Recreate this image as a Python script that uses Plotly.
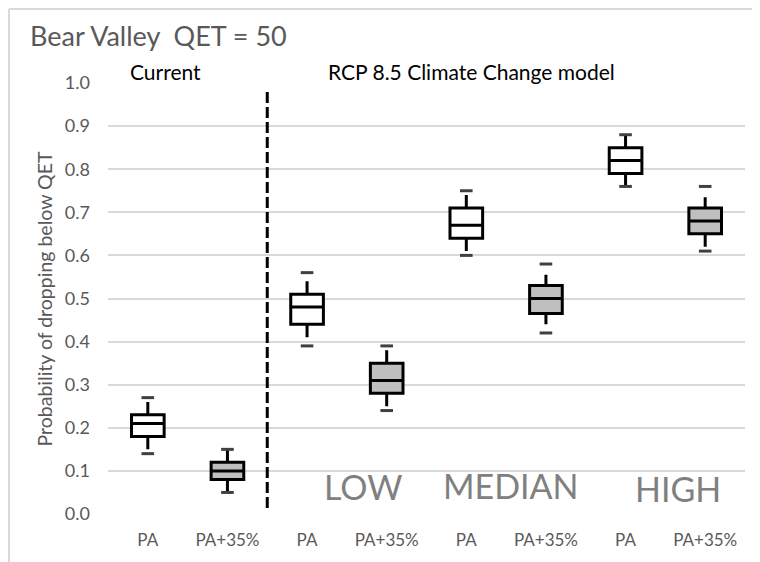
import plotly.graph_objects as go

# ---- data ----
x_labels = ["PA", "PA+35%", "PA", "PA+35%", "PA", "PA+35%", "PA", "PA+35%"]
scenario_labels = ["LOW", "MEDIAN", "HIGH"]

# PA boxes (Current, LOW, MEDIAN, HIGH)
pa_q1 = [0.18, 0.44, 0.64, 0.79]
pa_median = [0.21, 0.48, 0.67, 0.82]
pa_q3 = [0.23, 0.51, 0.71, 0.85]
pa_whisk_lo = [0.15, 0.41, 0.61, 0.76]
pa_whisk_hi = [0.26, 0.54, 0.74, 0.88]
pa_min = [0.14, 0.39, 0.60, 0.76]
pa_max = [0.27, 0.56, 0.75, 0.88]

# PA+35% boxes (Current, LOW, MEDIAN, HIGH)
pa35_q1 = [0.08, 0.28, 0.465, 0.65]
pa35_median = [0.10, 0.31, 0.50, 0.68]
pa35_q3 = [0.12, 0.35, 0.53, 0.71]
pa35_whisk_lo = [0.05, 0.25, 0.44, 0.62]
pa35_whisk_hi = [0.15, 0.38, 0.555, 0.735]
pa35_min = [0.05, 0.24, 0.42, 0.61]
pa35_max = [0.15, 0.39, 0.58, 0.76]

FONT = "Lato"
pa_x = [i for i, l in enumerate(x_labels) if l == "PA"]
pa35_x = [i for i, l in enumerate(x_labels) if l == "PA+35%"]

fig = go.Figure()


def add_boxes(xs, q1, med, q3, wlo, whi, mn, mx, fill):
    fig.add_trace(go.Box(
        x=xs, q1=q1, median=med, q3=q3, lowerfence=wlo, upperfence=whi,
        width=0.41, whiskerwidth=0, fillcolor=fill,
        line=dict(color="#000000", width=3), boxpoints=False,
        showlegend=False, hoverinfo="skip"))
    fig.add_trace(go.Scatter(
        x=xs + xs, y=mn + mx, mode="markers",
        marker=dict(symbol="line-ew", size=9,
                    line=dict(color="#404040", width=3)),
        showlegend=False, hoverinfo="skip"))


add_boxes(pa_x, pa_q1, pa_median, pa_q3, pa_whisk_lo, pa_whisk_hi, pa_min, pa_max, "#ffffff")
add_boxes(pa35_x, pa35_q1, pa35_median, pa35_q3, pa35_whisk_lo, pa35_whisk_hi, pa35_min, pa35_max, "#bfbfbf")

annotations = [
    dict(text="Current", x=0.22, y=1.026, xref="x", yref="paper", showarrow=False,
         font=dict(family=FONT, size=21, color="#000000"), xanchor="center", yanchor="middle"),
    dict(text="RCP 8.5 Climate Change model", x=4.06, y=1.026, xref="x", yref="paper",
         showarrow=False, font=dict(family=FONT, size=21, color="#000000"),
         xanchor="center", yanchor="middle"),
    dict(text="Probability of dropping below QET", x=-0.099, y=0.5, xref="paper", yref="paper",
         textangle=-90, showarrow=False, font=dict(family=FONT, size=19.5, color="#595959"),
         xanchor="center", yanchor="middle"),
]
for lab, xx, yy in zip(scenario_labels, [2.70, 4.56, 6.66], [0.063, 0.067, 0.060]):
    annotations.append(dict(text=lab, x=xx, y=yy, xref="x", yref="y", showarrow=False,
                            font=dict(family=FONT, size=34, color="#808080"),
                            xanchor="center", yanchor="middle"))

shapes = [
    dict(type="line", x0=1.5, x1=1.5, y0=0.014, y1=0.98, xref="x", yref="y",
         line=dict(color="#000000", width=3, dash="11px,4px")),
    dict(type="line", x0=-0.1554, x1=-0.1554, y0=1.1717, y1=-0.2, xref="paper", yref="paper",
         line=dict(color="#d9d9d9", width=2)),
    dict(type="line", x0=-0.1554, x1=1.1, y0=1.1717, y1=1.1717, xref="paper", yref="paper",
         line=dict(color="#d9d9d9", width=2)),
]

fig.update_layout(
    width=760, height=562,
    margin=dict(l=100, r=23, t=75, b=56),
    paper_bgcolor="#ffffff", plot_bgcolor="#ffffff",
    title=dict(text="Bear Valley  QET = 50", x=22 / 760, y=1 - 29 / 562, xref="container",
               yref="container", xanchor="left", yanchor="middle",
               font=dict(family=FONT, size=27, color="#595959")),
    xaxis=dict(range=[-0.5, 7.5], tickvals=list(range(len(x_labels))), ticktext=x_labels,
               showgrid=False, zeroline=False, showline=False,
               tickfont=dict(family=FONT, size=17, color="#595959"), ticks="",
               ticklabelstandoff=14),
    yaxis=dict(range=[0, 1.0], tickvals=[i / 10 for i in range(11)],
               ticktext=[f"{i / 10:.1f}" for i in range(11)],
               showgrid=True, gridcolor="#d9d9d9", gridwidth=1.5, zeroline=False,
               showline=False, ticks="", ticklabelstandoff=17,
               tickfont=dict(family=FONT, size=18, color="#595959")),
    annotations=annotations, shapes=shapes,
)

fig.write_html("out.html")
